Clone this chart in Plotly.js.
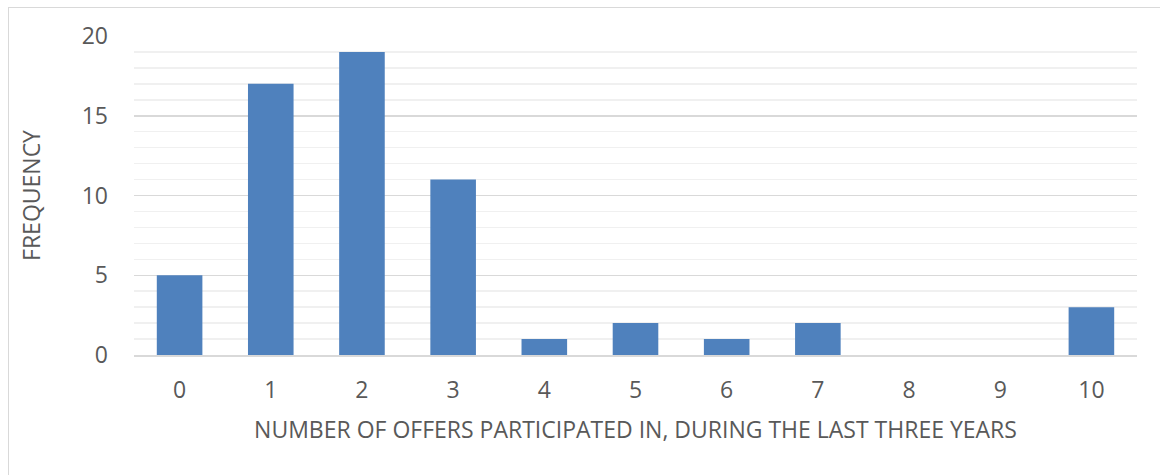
<!DOCTYPE html>
<html>
<head>
<meta charset="utf-8">
<script src="https://cdn.plot.ly/plotly-3.0.1.min.js"></script>
<style>
  html, body { margin: 0; padding: 0; background: #ffffff; }
  #wrap { position: relative; width: 1160px; height: 475px; overflow: hidden; }
  #chart { position: absolute; left: 0; top: 0; width: 1160px; height: 475px; }
  #frame { position: absolute; left: 8px; top: 7px; width: 1200px; height: 520px;
           border: 1px solid #d9d9d9; pointer-events: none; }
</style>
</head>
<body>
<div id="wrap">
  <div id="chart"></div>
  <div id="frame"></div>
</div>
<script>
// Number of offers participated in and how many respondents gave each count
const offers = [0, 1, 2, 3, 4, 5, 6, 7, 8, 9, 10];
const frequency = [5, 17, 19, 11, 1, 2, 1, 2, 0, 0, 3];
const yTicks = [0, 5, 10, 15, 20];

const xTitle = 'NUMBER OF OFFERS PARTICIPATED IN, DURING THE LAST THREE YEARS';
const yTitle = 'FREQUENCY';

const fontFamily = '"Open Sans", Lato, sans-serif';
const textColor = '#595959';

const trace = {
  type: 'bar',
  x: offers,
  y: frequency,
  marker: { color: '#4f81bd', line: { width: 0 } },
  hoverinfo: 'x+y'
};

const layout = {
  width: 1160,
  height: 475,
  margin: { l: 134, r: 23, t: 36, b: 120 },
  paper_bgcolor: '#ffffff',
  plot_bgcolor: '#ffffff',
  bargap: 0.5,
  showlegend: false,
  font: { family: fontFamily, color: textColor, size: 20 },
  xaxis: {
    type: 'linear',
    range: [-0.5, 10.5],
    tickmode: 'array',
    tickvals: offers,
    ticktext: offers.map(String),
    showgrid: false,
    zeroline: false,
    showline: true,
    linecolor: '#d9d9d9',
    linewidth: 2,
    ticks: '',
    ticklabelstandoff: 13,
    tickfont: { family: fontFamily, size: 23, color: textColor },
    title: { text: xTitle, font: { family: fontFamily, size: 23, color: textColor }, standoff: 18 }
  },
  yaxis: {
    range: [0, 20],
    tickmode: 'array',
    tickvals: yTicks,
    ticktext: yTicks.map(String),
    showgrid: true,
    gridcolor: '#d9d9d9',
    gridwidth: 1.5,
    zeroline: false,
    showline: false,
    ticks: '',
    ticklabelstandoff: 25,
    tickfont: { family: fontFamily, size: 23, color: textColor },
    minor: { dtick: 1, showgrid: true, gridcolor: '#f0f0f0', gridwidth: 1.5 },
    title: { text: yTitle, font: { family: fontFamily, size: 23, color: textColor }, standoff: 34 }
  }
};

Plotly.newPlot('chart', [trace], layout, { displayModeBar: false, staticPlot: true });
</script>
</body>
</html>
